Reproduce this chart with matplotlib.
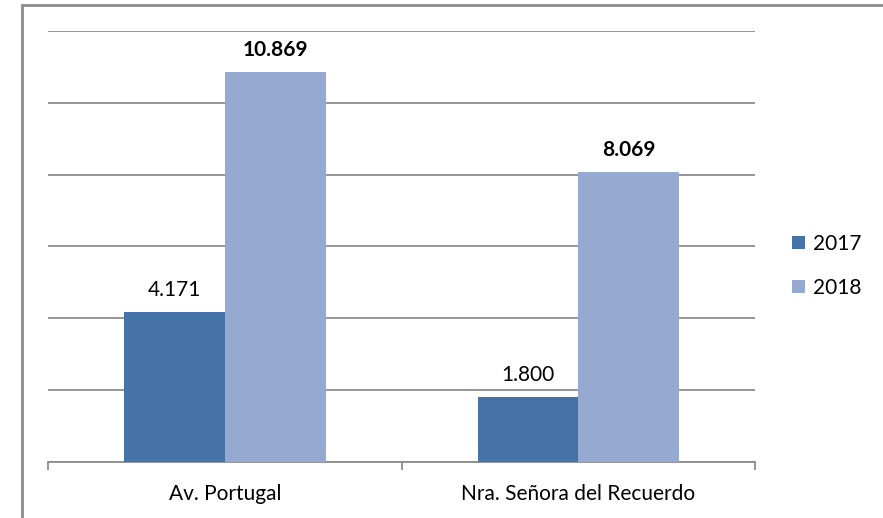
import matplotlib.pyplot as plt
import numpy as np
from matplotlib.patches import Rectangle

plt.rcParams['font.family'] = ['Lato', 'DejaVu Sans']

# Data
categories = ['Av. Portugal', 'Nra. Señora del Recuerdo']
series_names = ['2017', '2018']
values_2017 = [4.171, 1.800]
values_2018 = [10.869, 8.069]
labels_2017 = ['4.171', '1.800']
labels_2018 = ['10.869', '8.069']

color_2017 = '#4572A7'
color_2018 = '#95A9D1'
grid_color = '#8C8C8C'

fig = plt.figure(figsize=(8.83, 5.18), dpi=100)
ax = fig.add_axes([0.0544, 0.1081, 0.8007, 0.8321])

x = np.arange(len(categories))
width = 0.285

bars17 = ax.bar(x - width / 2, values_2017, width, color=color_2017, label=series_names[0], zorder=3)
bars18 = ax.bar(x + width / 2, values_2018, width, color=color_2018, label=series_names[1], zorder=3)

# value labels above bars: 2017 regular, 2018 bold
for rect, txt in zip(bars17, labels_2017):
    ax.annotate(txt, (rect.get_x() + rect.get_width() / 2, rect.get_height()),
                xytext=(0, 12), textcoords='offset pixels', ha='center', va='bottom',
                fontsize=15, color='black')
for rect, txt in zip(bars18, labels_2018):
    ax.annotate(txt, (rect.get_x() + rect.get_width() / 2, rect.get_height()),
                xytext=(0, 12), textcoords='offset pixels', ha='center', va='bottom',
                fontsize=15, fontweight='bold', color='black')

ax.set_xlim(-0.5, len(categories) - 0.5)
ax.set_ylim(0, 12)
ax.set_yticks(np.arange(0, 13, 2))
ax.yaxis.grid(True, color=grid_color, linewidth=1.3, zorder=0)
ax.tick_params(axis='y', left=False, labelleft=False)

# category boundary ticks on the x axis
ax.set_xticks([-0.5, 0.5, 1.5])
ax.set_xticklabels([])
ax.set_xticks(x, minor=True)
ax.set_xticklabels(categories, minor=True, fontsize=15)
ax.tick_params(axis='x', which='major', direction='out', length=6, width=1.3, color=grid_color)
ax.tick_params(axis='x', which='minor', length=0, pad=16)

for side in ['top', 'right', 'left']:
    ax.spines[side].set_visible(False)
ax.spines['bottom'].set_color(grid_color)
ax.spines['bottom'].set_linewidth(1.3)

leg = fig.legend(loc='center left', bbox_to_anchor=(0.876, 0.487), frameon=False,
                 fontsize=15, handlelength=0.6, handleheight=0.6, handletextpad=0.4,
                 labelspacing=1.15)

# outer chart border (left and top edges visible)
fig.patches.append(Rectangle((22 / 883, -0.1), 1.2, 0.1 + (1 - 5 / 518), transform=fig.transFigure,
                             fill=False, edgecolor=grid_color, linewidth=2))

fig.savefig('out.png', dpi=100)
